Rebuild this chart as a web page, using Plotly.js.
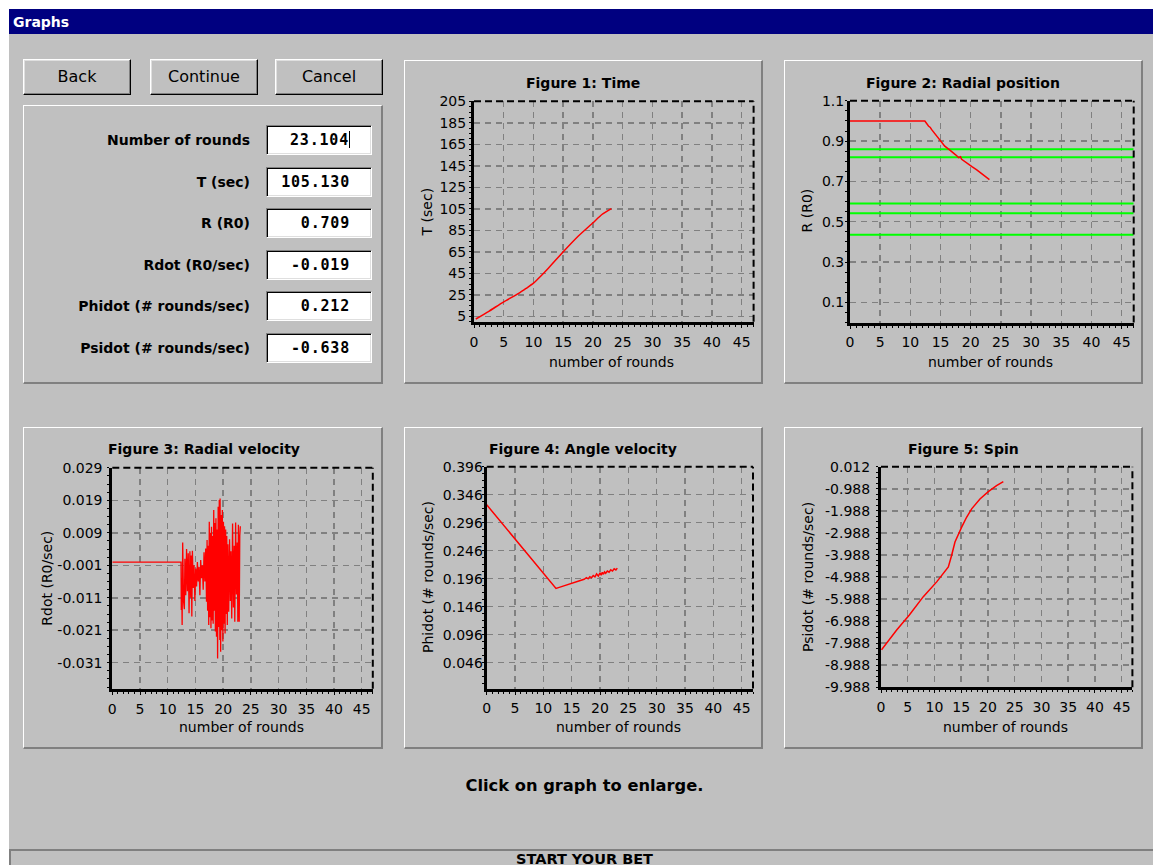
<!DOCTYPE html>
<html>
<head>
<meta charset="utf-8">
<script src="https://cdn.plot.ly/plotly-3.0.1.min.js"></script>
<style>
html,body{margin:0;padding:0;background:#ffffff;width:1153px;height:865px;overflow:hidden;font-family:"DejaVu Sans",Verdana,sans-serif;}
.abs{position:absolute;box-sizing:border-box;}
#win{left:9px;top:9px;width:1144px;height:856px;background:#c0c0c0;}
#titlebar{left:9px;top:9px;width:1144px;height:25px;background:#000080;color:#fff;font-weight:bold;font-size:14px;line-height:26px;padding-left:4px;}
.panel{border-top:1px solid #ffffff;border-left:1px solid #ffffff;border-right:2px solid #808080;border-bottom:2px solid #808080;}
.btn{border:1px solid;border-color:#ffffff #000000 #000000 #ffffff;box-shadow:inset -1px -1px #808080, inset 1px 1px #dfdfdf;font-size:16px;text-align:center;line-height:34px;color:#000;}
.lbl{font-weight:bold;font-size:14px;text-align:right;color:#000;line-height:30px;}
.inp{background:#fff;border:1px solid;border-color:#808080 #ffffff #ffffff #808080;box-shadow:inset 1px 1px #000, inset -1px -1px #dfdfdf;font-family:"DejaVu Sans Mono",monospace;font-weight:bold;font-size:15px;letter-spacing:0.8px;text-align:right;padding-right:21px;line-height:28px;color:#000;}
.cursor{display:inline-block;width:0;height:17px;border-left:1px solid #000;vertical-align:-3px;margin-left:0px;}
#hint{left:334.5px;top:775px;width:500px;text-align:center;font-weight:bold;font-size:16.3px;line-height:22px;}
#bottombar{left:9px;top:849px;width:1144px;height:16px;border-top:2px solid #808080;border-left:2px solid #808080;}
#bet{left:384.5px;top:851px;width:400px;text-align:center;font-weight:bold;font-size:14.5px;line-height:16px;}
#plot{position:absolute;left:0;top:0;width:1153px;height:865px;}
</style>
</head>
<body>
<div id="win" class="abs"></div>
<div id="titlebar" class="abs">Graphs</div>
<div id="ui"></div>
<div id="hint" class="abs">Click on graph to enlarge.</div>
<div id="bottombar" class="abs"></div>
<div id="bet" class="abs">START YOUR BET</div>
<div id="plot"></div>
<script>
// ---------- DATA ----------
const roundTicks = [0, 5, 10, 15, 20, 25, 30, 35, 40, 45];
const roundTickText = ['0', '5', '10', '15', '20', '25', '30', '35', '40', '45'];

const tTicks = [5, 25, 45, 65, 85, 105, 125, 145, 165, 185, 205];
const tTickText = ['5', '25', '45', '65', '85', '105', '125', '145', '165', '185', '205'];
const rTicks = [0.1, 0.3, 0.5, 0.7, 0.9, 1.1];
const rTickText = ['0.1', '0.3', '0.5', '0.7', '0.9', '1.1'];
const rdotTicks = [-0.031, -0.021, -0.011, -0.001, 0.009, 0.019, 0.029];
const rdotTickText = ['-0.031', '-0.021', '-0.011', '-0.001', '0.009', '0.019', '0.029'];
const phidotTicks = [0.046, 0.096, 0.146, 0.196, 0.246, 0.296, 0.346, 0.396];
const phidotTickText = ['0.046', '0.096', '0.146', '0.196', '0.246', '0.296', '0.346', '0.396'];
const psidotTicks = [-9.988, -8.988, -7.988, -6.988, -5.988, -4.988, -3.988, -2.988, -1.988, -0.988, 0.012];
const psidotTickText = ['-9.988', '-8.988', '-7.988', '-6.988', '-5.988', '-4.988', '-3.988', '-2.988', '-1.988', '-0.988', '0.012'];

// Figure 1: Time
const roundsT = [0.3, 2.5, 5, 7.5, 8.75, 10, 11.2, 12.5, 15, 17.5, 20, 21.5, 23.1];
const timeT = [2.5, 9.7, 18.5, 26.3, 30.9, 35.8, 42.2, 49.7, 65, 79.5, 92, 99.7, 105.1];

// Figure 2: Radial position
const roundsR = [0, 12.4, 13, 13.3, 13.5, 14, 14.5, 14.9, 15.7, 16.55, 17, 17.5, 18, 18.3, 18.5, 19, 19.3, 19.8, 20.2, 21, 22, 22.9, 23.1];
const radiusR = [1.0, 1.0, 0.975, 0.968, 0.958, 0.94, 0.922, 0.905, 0.875, 0.855, 0.845, 0.832, 0.818, 0.822, 0.810, 0.798, 0.794, 0.782, 0.773, 0.757, 0.733, 0.712, 0.709];
const greenLevels = [0.860, 0.820, 0.590, 0.542, 0.436];

// Figure 3: Radial velocity
const roundsV = [0, 12.40, 12.45, 12.52, 12.60, 12.70, 12.85, 13.00, 13.10, 13.25, 13.40, 13.55, 13.70, 13.85, 14.00, 14.15, 14.25, 14.35, 14.45, 14.60, 14.75, 14.90, 15.05, 15.20, 15.35, 15.50, 15.65, 15.80, 15.95, 16.10, 16.25, 16.40, 16.55, 16.70, 16.85, 17.00, 17.10, 17.20, 17.30, 17.40, 17.50, 17.60, 17.70, 17.80, 17.90, 18.00, 18.10, 18.20, 18.30, 18.40, 18.50, 18.60, 18.70, 18.80, 18.90, 19.00, 19.10, 19.20, 19.30, 19.40, 19.45, 19.55, 19.65, 19.75, 19.85, 19.95, 20.05, 20.15, 20.25, 20.35, 20.45, 20.55, 20.65, 20.75, 20.85, 21.00, 21.15, 21.30, 21.40, 21.55, 21.70, 21.85, 22.00, 22.10, 22.25, 22.40, 22.55, 22.65, 22.75, 22.90, 23.00, 23.10];
const rdotV = [0.0, 0.0, -0.0148, -0.0060, -0.0194, 0.0060, -0.0120, -0.0145, 0.0010, -0.0102, 0.0040, -0.0090, 0.0027, -0.0158, 0.0033, -0.0110, 0.0020, -0.0168, 0.0035, -0.0080, -0.0010, -0.0120, -0.0020, -0.0075, 0.0000, -0.0060, -0.0015, -0.0102, 0.0006, -0.0050, -0.0010, -0.0085, 0.0030, -0.0060, 0.0042, -0.0122, 0.0068, -0.0150, 0.0050, -0.0194, 0.0124, -0.0170, 0.0090, -0.0204, 0.0109, -0.0180, 0.0080, -0.0190, 0.0160, -0.0150, 0.0120, -0.0214, 0.0135, -0.0230, 0.0100, -0.0297, 0.0170, -0.0200, 0.0191, -0.0240, 0.0196, -0.0276, 0.0145, -0.0210, 0.0160, -0.0245, 0.0124, -0.0190, 0.0110, -0.0220, 0.0100, -0.0160, 0.0080, -0.0194, 0.0055, -0.0153, 0.0070, -0.0120, 0.0033, -0.0174, 0.0119, -0.0140, 0.0050, -0.0184, 0.0122, -0.0100, 0.0060, -0.0184, 0.0115, -0.0184, 0.0080, 0.0110];

// Figure 4: Angle velocity
const roundsP = [0, 2, 4, 6, 8, 10, 12.23, 12.8, 13.5, 14.2, 15, 15.7, 16.5, 17.2, 17.6, 17.9, 18.2, 18.5, 18.8, 19.1, 19.4, 19.7, 20.0, 20.2, 20.4, 20.6, 20.8, 21.0, 21.3, 21.6, 21.9, 22.2, 22.5, 22.8, 23.05];
const phidotP = [0.328, 0.3036, 0.2792, 0.2548, 0.2304, 0.206, 0.1787, 0.1806, 0.1829, 0.1851, 0.1878, 0.1900, 0.1927, 0.1950, 0.1978, 0.1958, 0.1997, 0.1977, 0.2017, 0.1992, 0.2046, 0.2006, 0.2066, 0.2022, 0.2074, 0.2040, 0.2082, 0.2058, 0.2098, 0.2078, 0.2118, 0.2097, 0.2137, 0.2117, 0.2150];

// Figure 5: Spin
const roundsS = [0.1, 2.93, 5.3, 7.91, 10.41, 12.0, 12.59, 13.21, 13.83, 15.08, 16.0, 16.95, 18.5, 20.06, 21.6, 22.87];
const psidotS = [-8.29, -7.39, -6.71, -5.88, -5.21, -4.72, -4.53, -4.00, -3.40, -2.73, -2.28, -1.90, -1.45, -1.12, -0.845, -0.665];

// input panel texts
const fieldLabels = ['Number of rounds', 'T (sec)', 'R (R0)', 'Rdot (R0/sec)', 'Phidot (# rounds/sec)', 'Psidot (# rounds/sec)'];
const fieldValues = ['23.104', '105.130', '0.709', '-0.019', '0.212', '-0.638'];
const buttonLabels = ['Back', 'Continue', 'Cancel'];

// ---------- UI (window chrome) ----------
const ui = document.getElementById('ui');
function addDiv(cls, style, html) {
  const d = document.createElement('div');
  d.className = 'abs ' + cls;
  d.setAttribute('style', style);
  if (html !== undefined) d.innerHTML = html;
  ui.appendChild(d);
  return d;
}
const btnLeft = [23, 150, 275];
buttonLabels.forEach((b, i) => addDiv('btn', `left:${btnLeft[i]}px;top:59px;width:108px;height:36px;`, b));
addDiv('panel', 'left:23px;top:105px;width:360px;height:279px;');
addDiv('panel', 'left:404px;top:60px;width:359px;height:324px;');
addDiv('panel', 'left:784px;top:60px;width:359px;height:324px;');
addDiv('panel', 'left:23px;top:427px;width:360px;height:322px;');
addDiv('panel', 'left:404px;top:427px;width:359px;height:322px;');
addDiv('panel', 'left:784px;top:427px;width:359px;height:322px;');
fieldLabels.forEach((l, i) => {
  const top = 125 + i * 41.5;
  addDiv('lbl', `left:20px;top:${top}px;width:230px;height:30px;`, l);
  const v = fieldValues[i] + (i === 0 ? '<span class="cursor"></span>' : '');
  addDiv('inp', `left:266px;top:${top}px;width:106px;height:30px;`, v);
});

// ---------- PLOTS ----------
const W = 1153, H = 865;
const FONT = '"DejaVu Sans", Verdana, sans-serif';
const px = v => v / W;
const py = v => 1 - v / H;

const specs = [
  {box: [474, 753.6, 101.2, 321.7], yr: [0, 205.05], yt: tTicks, ytt: tTickText, ymd: 5, ym0: 5, ys: 0,
   title: 'Figure 1: Time', tx: 583.5, ty: 82.7, xtx: 611.3, xty: 361.7, ytitle: 'T (sec)', ytx: 426.7, yty: 211.7},
  {box: [850, 1133.7, 100.7, 322.5], yr: [0, 1.1005], yt: rTicks, ytt: rTickText, ymd: 0.05, ym0: 0.1, ys: -2,
   title: 'Figure 2: Radial position', tx: 963, ty: 82.7, xtx: 990, xty: 361.7, ytitle: 'R (R0)', ytx: 806.7, yty: 210.7},
  {box: [112.3, 372.8, 467.7, 688.7], yr: [-0.039, 0.02905], yt: rdotTicks, ytt: rdotTickText, ymd: 0.0025, ym0: -0.001, ys: 2,
   title: 'Figure 3: Radial velocity', tx: 203.5, ty: 449.3, xtx: 241.3, xty: 726.7, ytitle: 'Rdot (R0/sec)', ytx: 46.7, yty: 578},
  {box: [486.7, 753, 466.7, 688.5], yr: [0, 0.39605], yt: phidotTicks, ytt: phidotTickText, ymd: 0.0125, ym0: 0.046, ys: -4,
   title: 'Figure 4: Angle velocity', tx: 583.5, ty: 449.3, xtx: 618.7, xty: 726.7, ytitle: 'Phidot (# rounds/sec)', ytx: 427.3, yty: 576.7},
  {box: [881, 1132.4, 466.7, 687.3], yr: [-9.989, 0.0125], yt: psidotTicks, ytt: psidotTickText, ymd: 0.25, ym0: 0.012, ys: 3,
   title: 'Figure 5: Spin', tx: 963, ty: 449.3, xtx: 1005.8, xty: 726.7, ytitle: 'Psidot (# rounds/sec)', ytx: 807.3, yty: 576.7}
];

const tickFont = {family: FONT, size: 14, color: '#000'};
const layout = {
  width: W, height: H,
  margin: {l: 0, r: 0, t: 0, b: 0, pad: 0},
  paper_bgcolor: 'rgba(0,0,0,0)', plot_bgcolor: 'rgba(0,0,0,0)',
  showlegend: false,
  font: {family: FONT, size: 14, color: '#000'},
  annotations: [], shapes: []
};

specs.forEach((s, i) => {
  const n = i === 0 ? '' : String(i + 1);
  const [l, r, t, b] = s.box;
  layout['xaxis' + n] = {
    domain: [px(l), px(r)], range: [0, 47], anchor: 'y' + n,
    tickmode: 'array', tickvals: roundTicks, ticktext: roundTickText,
    ticks: 'outside', ticklen: 3, tickwidth: 1, tickcolor: '#000',
    showline: true, linewidth: 3, linecolor: '#000',
    showgrid: true, gridcolor: '#808080', gridwidth: 1.5, griddash: '6px,5px',
    zeroline: false, tickfont: tickFont, ticklabelstandoff: 2,
    minor: {tickmode: 'linear', tick0: 0, dtick: 1, ticks: 'outside', ticklen: 2, tickwidth: 1, tickcolor: '#000', showgrid: false},
    fixedrange: true
  };
  layout['yaxis' + n] = {
    domain: [py(b), py(t)], range: s.yr, anchor: 'x' + n,
    tickmode: 'array', tickvals: s.yt, ticktext: s.ytt,
    ticks: 'outside', ticklen: 2, tickwidth: 1, tickcolor: '#000',
    showline: true, linewidth: 3, linecolor: '#000',
    showgrid: true, gridcolor: '#808080', gridwidth: 1.5, griddash: '6px,5px',
    zeroline: false, tickfont: tickFont, ticklabelstandoff: s.ys,
    minor: {tickmode: 'linear', tick0: s.ym0, dtick: s.ymd, ticks: 'outside', ticklen: 2, tickwidth: 1, tickcolor: '#000', showgrid: false},
    fixedrange: true
  };
  const xr = 'x' + n + ' domain', yr = 'y' + n + ' domain';
  layout.shapes.push({type: 'line', xref: xr, yref: yr, x0: 0, x1: 1, y0: 1, y1: 1, line: {color: '#000', width: 2, dash: '7px,4px'}});
  layout.shapes.push({type: 'line', xref: xr, yref: yr, x0: 1, x1: 1, y0: 0, y1: 1, line: {color: '#000', width: 2, dash: '7px,4px'}});
  layout.annotations.push({xref: 'paper', yref: 'paper', x: px(s.tx), y: py(s.ty), xanchor: 'center', yanchor: 'middle',
    text: '<b>' + s.title + '</b>', showarrow: false, font: {family: FONT, size: 14, color: '#000'}});
  layout.annotations.push({xref: 'paper', yref: 'paper', x: px(s.xtx), y: py(s.xty), xanchor: 'center', yanchor: 'middle',
    text: 'number of rounds', showarrow: false, font: {family: FONT, size: 14, color: '#000'}});
  layout.annotations.push({xref: 'paper', yref: 'paper', x: px(s.ytx), y: py(s.yty), xanchor: 'center', yanchor: 'middle',
    text: s.ytitle, textangle: -90, showarrow: false, font: {family: FONT, size: 14, color: '#000'}});
});

const red = {color: '#ff0000', width: 1.5};
const traces = [];
traces.push({x: roundsT, y: timeT, xaxis: 'x', yaxis: 'y', mode: 'lines', line: Object.assign({shape: 'spline', smoothing: 0.6}, red)});
greenLevels.forEach(g => traces.push({x: [0, 47], y: [g, g], xaxis: 'x2', yaxis: 'y2', mode: 'lines', line: {color: '#00ff00', width: 2}}));
traces.push({x: roundsR, y: radiusR, xaxis: 'x2', yaxis: 'y2', mode: 'lines', line: red});
traces.push({x: roundsV, y: rdotV, xaxis: 'x3', yaxis: 'y3', mode: 'lines', line: {color: '#ff0000', width: 1.3}});
traces.push({x: roundsP, y: phidotP, xaxis: 'x4', yaxis: 'y4', mode: 'lines', line: red});
traces.push({x: roundsS, y: psidotS, xaxis: 'x5', yaxis: 'y5', mode: 'lines', line: red});

Plotly.newPlot('plot', traces, layout, {staticPlot: true, displayModeBar: false});
</script>
</body>
</html>
